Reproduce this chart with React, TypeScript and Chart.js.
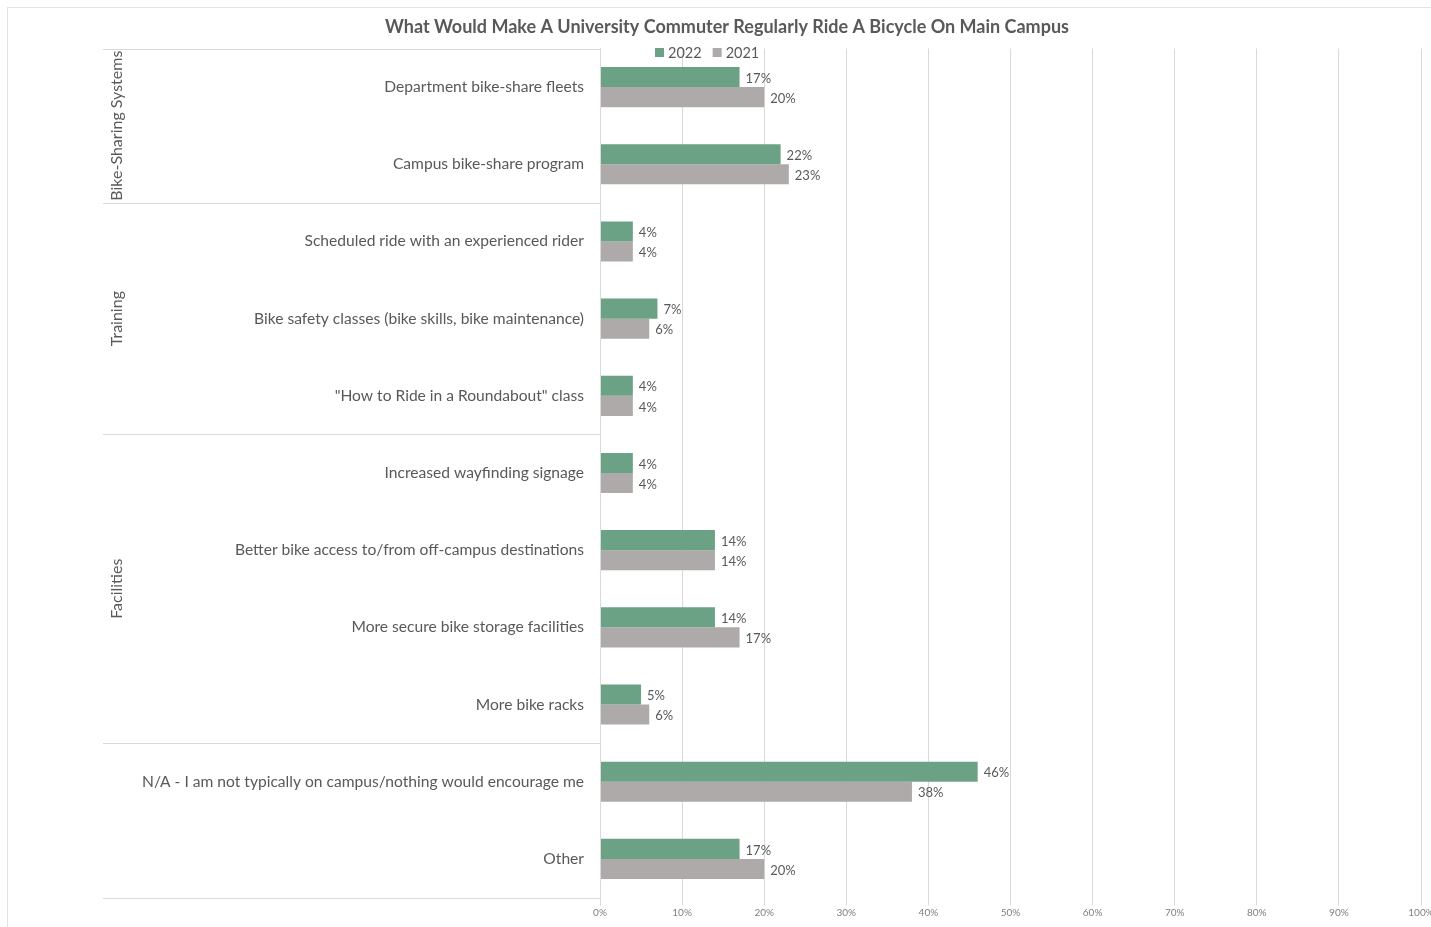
import React, { useEffect, useRef } from "react";
import { Chart, registerables } from "chart.js";

Chart.register(...registerables);

const categories = [
  "Department bike-share fleets",
  "Campus bike-share program",
  "Scheduled ride with an experienced rider",
  "Bike safety classes (bike skills, bike maintenance)",
  "\"How to Ride in a Roundabout\" class",
  "Increased wayfinding signage",
  "Better bike access to/from off-campus destinations",
  "More secure bike storage facilities",
  "More bike racks",
  "N/A - I am not typically on campus/nothing would encourage me",
  "Other",
];
const values2022 = [17, 22, 4, 7, 4, 4, 14, 14, 5, 46, 17];
const values2021 = [20, 23, 4, 6, 4, 4, 14, 17, 6, 38, 20];
const groups = [
  { label: "Bike-Sharing Systems", from: 0, to: 1 },
  { label: "Training", from: 2, to: 4 },
  { label: "Facilities", from: 5, to: 8 },
  { label: "", from: 9, to: 10 },
];
const xTicks = [0, 10, 20, 30, 40, 50, 60, 70, 80, 90, 100];
const title = "What Would Make A University Commuter Regularly Ride A Bicycle On Main Campus";

const GREEN = "#6ba184";
const GRAY = "#aeaaaa";
const TEXT = "#595959";
const LINE = "#d9d9d9";
const FONT = "Lato";

const W = 1431;
const H = 927;

export default function App() {
  const ref = useRef<HTMLCanvasElement>(null);
  useEffect(() => {
    document.body.style.margin = "0";
    document.body.style.overflow = "hidden";
    const canvas = ref.current!;
    const deco = {
      id: "deco",
      beforeDraw(chart: any) {
        const ctx = chart.ctx;
        ctx.save();
        ctx.fillStyle = "#fff";
        ctx.fillRect(0, 0, W, H);
        ctx.strokeStyle = "#e3e3e3";
        ctx.lineWidth = 1;
        ctx.strokeRect(7.5, 7.5, W + 20, H + 20);
        ctx.restore();
      },
      afterDraw(chart: any) {
        const ctx = chart.ctx;
        const area = chart.chartArea;
        const y = chart.scales.y;
        ctx.save();
        // title
        ctx.fillStyle = TEXT;
        ctx.font = `bold 18px ${FONT}`;
        ctx.textAlign = "center";
        ctx.textBaseline = "middle";
        ctx.fillText(title, 727, 27);
        // legend
        ctx.font = `14.5px ${FONT}`;
        ctx.textAlign = "left";
        const legendItems = [
          { t: "2022", c: GREEN },
          { t: "2021", c: GRAY },
        ];
        let lx = 655;
        for (const it of legendItems) {
          ctx.fillStyle = it.c;
          ctx.fillRect(lx, 48, 9, 9);
          ctx.fillStyle = TEXT;
          ctx.fillText(it.t, lx + 13, 53);
          lx += 13 + ctx.measureText(it.t).width + 11;
        }
        // y axis line
        ctx.strokeStyle = LINE;
        ctx.lineWidth = 1;
        ctx.beginPath();
        ctx.moveTo(Math.round(area.left) + 0.5, area.top);
        ctx.lineTo(Math.round(area.left) + 0.5, area.bottom + 8);
        ctx.stroke();
        // group separators and labels
        const step = y.getPixelForValue(1) - y.getPixelForValue(0);
        const bounds: number[] = [];
        groups.forEach((g, i) => {
          const top = y.getPixelForValue(g.from) - step / 2;
          const bot = y.getPixelForValue(g.to) + step / 2;
          if (i === 0) bounds.push(top);
          bounds.push(bot);
          if (g.label) {
            ctx.save();
            ctx.translate(117, (top + bot) / 2);
            ctx.rotate(-Math.PI / 2);
            ctx.fillStyle = TEXT;
            ctx.font = `16px ${FONT}`;
            ctx.textAlign = "center";
            ctx.textBaseline = "middle";
            ctx.fillText(g.label, 0, 0);
            ctx.restore();
          }
        });
        ctx.strokeStyle = LINE;
        for (const b of bounds) {
          const yy = Math.round(b) + 0.5;
          ctx.beginPath();
          ctx.moveTo(103, yy);
          ctx.lineTo(area.left, yy);
          ctx.stroke();
        }
        // data labels
        ctx.font = `13px ${FONT}`;
        ctx.fillStyle = TEXT;
        ctx.textAlign = "left";
        ctx.textBaseline = "middle";
        chart.data.datasets.forEach((ds: any, di: number) => {
          const meta = chart.getDatasetMeta(di);
          meta.data.forEach((bar: any, i: number) => {
            ctx.fillText(ds.data[i] + "%", bar.x + 6, bar.y + 1.5);
          });
        });
        ctx.restore();
      },
    };
    const chart = new Chart(canvas, {
      type: "bar",
      data: {
        labels: categories,
        datasets: [
          { label: "2022", data: values2022, backgroundColor: GREEN, categoryPercentage: 0.52, barPercentage: 1 },
          { label: "2021", data: values2021, backgroundColor: GRAY, categoryPercentage: 0.52, barPercentage: 1 },
        ],
      },
      options: {
        indexAxis: "y",
        responsive: false,
        animation: false,
        layout: { padding: { top: 48.5, right: 10, bottom: 0, left: 0 } },
        plugins: {
          legend: { display: false },
          title: { display: false },
          tooltip: { enabled: false },
        },
        scales: {
          x: {
            min: 0,
            max: 100,
            afterBuildTicks: (s: any) => {
              s.ticks = xTicks.map((v) => ({ value: v }));
            },
            afterFit: (s: any) => {
              s.height = 29.5;
              s.paddingRight = 0;
            },
            grid: { color: LINE, drawTicks: true, tickLength: 8 },
            border: { display: false },
            ticks: {
              maxRotation: 0,
              autoSkip: false,
              padding: 1,
              color: "#808080",
              font: { family: FONT, size: 10 },
              callback: (v: any) => v + "%",
            },
          },
          y: {
            afterFit: (s: any) => {
              s.width = 600;
            },
            grid: { display: false, drawTicks: false },
            border: { display: false },
            ticks: {
              padding: 16,
              color: TEXT,
              autoSkip: false,
              font: { family: FONT, size: 15.6 },
            },
          },
        },
      },
      plugins: [deco],
    } as any);
    return () => chart.destroy();
  }, []);
  return <canvas ref={ref} width={W} height={H} style={{ display: "block", width: W, height: H }} />;
}
